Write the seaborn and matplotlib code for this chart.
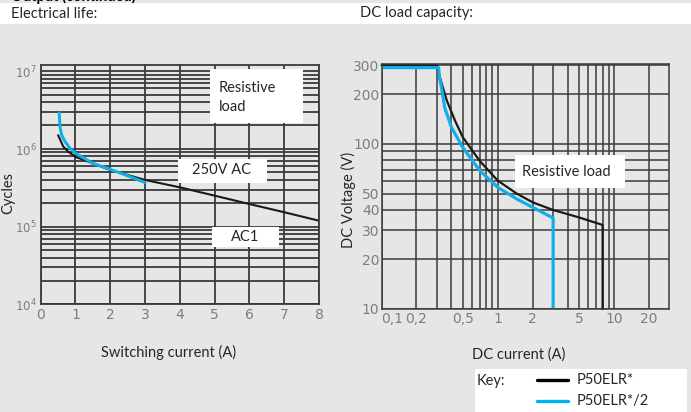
import matplotlib
matplotlib.use('Agg')
import matplotlib.pyplot as plt
import matplotlib.ticker as mticker
from matplotlib import font_manager
from matplotlib.patches import Rectangle
from matplotlib.lines import Line2D
import seaborn as sns
import pandas as pd

# Electrical life: cycles vs switching current
life_black_current = [0.5, 0.65, 0.79, 1.0, 2.0, 3.0, 4.0, 5.0, 6.0, 7.0, 8.0]
life_black_cycles = [1.5e6, 1.07e6, 9.2e5, 7.9e5, 5.35e5, 3.98e5, 3.2e5, 2.5e5, 1.95e5, 1.53e5, 1.19e5]
life_blue_current = [0.53, 0.555, 0.6, 0.7, 0.84, 1.0, 1.5, 2.0, 2.5, 3.0]
life_blue_cycles = [2.9e6, 1.93e6, 1.51e6, 1.24e6, 1.02e6, 8.8e5, 6.5e5, 5.45e5, 4.5e5, 3.7e5]

# DC load capacity: voltage vs current
dc_black_current = [0.1, 0.3, 0.31, 0.326, 0.365, 0.43, 0.5, 0.7, 1.0, 1.46, 2.0, 3.0, 5.0, 8.0, 8.0]
dc_black_voltage = [300, 300, 268, 238, 183, 138, 110, 79, 60, 50, 44.3, 39.8, 35.9, 32.3, 10]
dc_blue_current = [0.1, 0.31, 0.315, 0.33, 0.35, 0.4, 0.5, 0.7, 1.0, 1.46, 2.0, 3.0, 3.0]
dc_blue_voltage = [290, 290, 255, 215, 166, 126, 95.4, 69, 54.6, 46.4, 41.3, 35.6, 10]

life_x_ticks = [0, 1, 2, 3, 4, 5, 6, 7, 8]
life_y_ticks = [1e4, 1e5, 1e6, 1e7]
life_y_labels = ['$10^4$', '$10^5$', '$10^6$', '$10^7$']
dc_x_ticks = [0.1, 0.2, 0.5, 1, 2, 5, 10, 20]
dc_x_labels = ['0,1', '0,2', '0,5', '1', '2', '5', '10', '20']
dc_x_minor = [0.3, 0.4, 0.6, 0.7, 0.8, 0.9, 3, 4, 6, 7, 8, 9]
dc_y_ticks = [10, 20, 30, 40, 50, 100, 200, 300]
dc_y_minor = [60, 70, 80, 90]

key_labels = ['P50ELR*', 'P50ELR*/2']

BLACK = '#1a1a1a'
BLUE = '#13aee8'
GRID = '#3a3a3a'
BG = '#e6e6e6'
TICK = '#7d7d7d'
TXT = 'Lato'
FS = 10.5

installed = {f.name for f in font_manager.fontManager.ttflist}
TICKFONT = 'Liberation Sans Narrow' if 'Liberation Sans Narrow' in installed else 'DejaVu Sans'

W, H = 691, 412


def fx(px):
    return px / W


def fy(py):
    return 1 - py / H


sns.set_style('white')
plt.rcParams['font.family'] = ['Lato', 'DejaVu Sans']

fig = plt.figure(figsize=(W / 100, H / 100), dpi=100, facecolor=BG)

# header strip
fig.add_artist(Rectangle((0, fy(24)), 1, fy(3) - fy(24), transform=fig.transFigure,
                         facecolor='white', edgecolor='none', zorder=1))
fig.text(fx(11), fy(0.5), 'Output (continued)', fontsize=FS, fontweight='bold',
         family=TXT, va='baseline', ha='left', color='black')
fig.text(fx(11), fy(13.5), 'Electrical life:', fontsize=FS, family=TXT, va='center', ha='left')
fig.text(fx(360), fy(13.5), 'DC load capacity:', fontsize=FS, family=TXT, va='center', ha='left')


def style_axes(ax, lw):
    ax.set_facecolor(BG)
    ax.grid(True, which='both', color=GRID, linewidth=lw)
    ax.set_axisbelow(True)
    for s in ax.spines.values():
        s.set_color(GRID)
        s.set_linewidth(lw)
    ax.tick_params(which='both', length=0, labelcolor=TICK, labelsize=10)
    ax.set_xlabel('')
    ax.set_ylabel('')


# ---- Electrical life ----
ax1 = fig.add_axes([fx(40.7), fy(304.3), fx(319) - fx(40.7), fy(65) - fy(304.3)])
life_black = pd.DataFrame({'current': life_black_current, 'cycles': life_black_cycles})
life_blue = pd.DataFrame({'current': life_blue_current, 'cycles': life_blue_cycles})
sns.lineplot(data=life_black, x='current', y='cycles', color=BLACK, linewidth=1.5,
             sort=False, estimator=None, ax=ax1)
sns.lineplot(data=life_blue, x='current', y='cycles', color=BLUE, linewidth=2.2,
             sort=False, estimator=None, ax=ax1)
ax1.set_yscale('log')
ax1.set_xlim(0, 8)
ax1.set_ylim(1e4, 1.2e7)
ax1.set_xticks(life_x_ticks, [str(v) for v in life_x_ticks], family=TICKFONT)
ax1.set_yticks(life_y_ticks, life_y_labels)
ax1.yaxis.set_minor_locator(mticker.LogLocator(base=10, subs=range(2, 10)))
ax1.yaxis.set_minor_formatter(mticker.NullFormatter())
style_axes(ax1, 1.3)
ax1.tick_params(axis='x', pad=3)
ax1.tick_params(axis='y', pad=3, labelsize=8.5)

# ---- DC load capacity ----
ax2 = fig.add_axes([fx(381.5), fy(309), fx(669.3) - fx(381.5), fy(64) - fy(309)])
dc_black = pd.DataFrame({'current': dc_black_current, 'voltage': dc_black_voltage})
dc_blue = pd.DataFrame({'current': dc_blue_current, 'voltage': dc_blue_voltage})
sns.lineplot(data=dc_black, x='current', y='voltage', color=BLACK, linewidth=1.6,
             sort=False, estimator=None, ax=ax2, clip_on=False)
sns.lineplot(data=dc_blue, x='current', y='voltage', color=BLUE, linewidth=2.3,
             sort=False, estimator=None, ax=ax2)
ax2.set_xscale('log')
ax2.set_yscale('log')
ax2.set_xlim(0.1, 30)
ax2.set_ylim(10, 305)
ax2.set_xticks(dc_x_ticks, dc_x_labels, family=TICKFONT)
ax2.set_xticks(dc_x_minor, minor=True)
ax2.set_yticks(dc_y_ticks, [str(v) for v in dc_y_ticks], family=TICKFONT)
ax2.set_yticks(dc_y_minor, minor=True)
ax2.xaxis.set_minor_formatter(mticker.NullFormatter())
ax2.yaxis.set_minor_formatter(mticker.NullFormatter())
style_axes(ax2, 1.1)
ax2.tick_params(axis='x', pad=2)
ax2.tick_params(axis='y', pad=1.5)
ax2.get_xticklabels()[0].set_horizontalalignment('left')

# ---- white annotation boxes ----
def white_box(x0, y0, x1, y1):
    fig.add_artist(Rectangle((fx(x0), fy(y1)), fx(x1) - fx(x0), fy(y0) - fy(y1),
                             transform=fig.transFigure, facecolor='white',
                             edgecolor='none', zorder=2))


white_box(210, 69, 303, 123)
fig.text(fx(219), fy(88), 'Resistive', fontsize=FS, family=TXT, va='center', ha='left', zorder=3)
fig.text(fx(219), fy(107), 'load', fontsize=FS, family=TXT, va='center', ha='left', zorder=3)
white_box(178, 159, 267, 183)
fig.text(fx(221.5), fy(170), '250V AC', fontsize=FS, family=TXT, va='center', ha='center', zorder=3)
white_box(212, 227, 279, 247)
fig.text(fx(245), fy(237), 'AC1', fontsize=FS, family=TXT, va='center', ha='center', zorder=3)
white_box(515, 155, 625, 188)
fig.text(fx(566), fy(172.5), 'Resistive load', fontsize=FS, family=TXT, va='center', ha='center', zorder=3)

# axis titles
fig.text(fx(8), fy(193), 'Cycles', fontsize=FS, family=TXT, rotation=90, va='center', ha='center')
fig.text(fx(169), fy(352), 'Switching current (A)', fontsize=FS, family=TXT, va='center', ha='center')
fig.text(fx(348), fy(200), 'DC Voltage (V)', fontsize=FS, family=TXT, rotation=90, va='center', ha='center')
fig.text(fx(519), fy(355), 'DC current (A)', fontsize=FS, family=TXT, va='center', ha='center')

# key
white_box(475, 369, 687, 412)
fig.text(fx(477), fy(381), 'Key:', fontsize=FS, family=TXT, va='center', ha='left', zorder=3)
for ypx, col, lab in [(380, 'black', key_labels[0]), (401, '#00b0f0', key_labels[1])]:
    fig.add_artist(Line2D([fx(537), fx(568)], [fy(ypx), fy(ypx)], transform=fig.transFigure,
                          color=col, linewidth=2.4, zorder=3))
    fig.text(fx(577), fy(ypx), lab, fontsize=FS, family=TXT, va='center', ha='left', zorder=3)

fig.savefig('out.png', dpi=100, facecolor=BG)
